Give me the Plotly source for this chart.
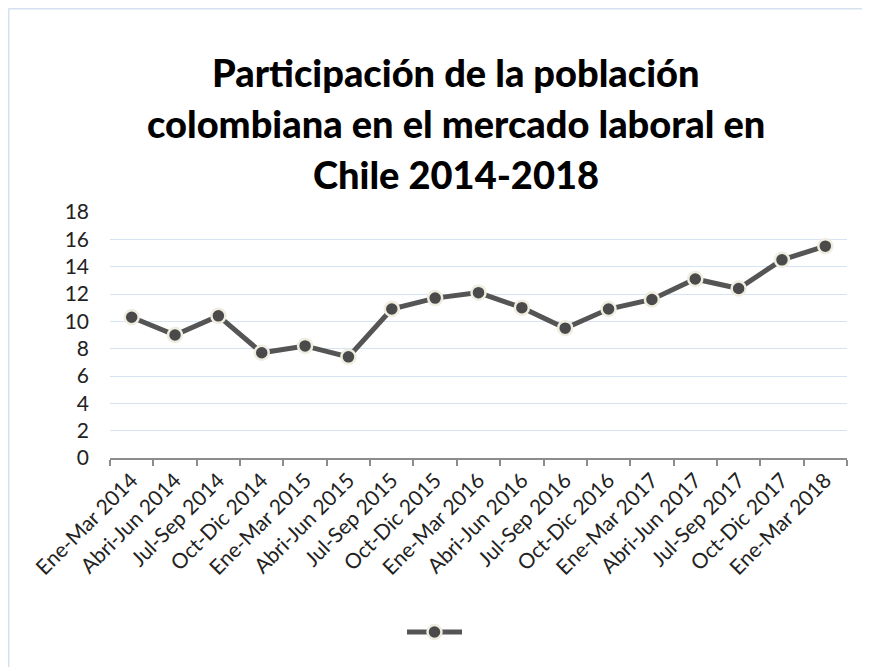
import plotly.graph_objects as go

categories = ["Ene-Mar 2014", "Abri-Jun 2014", "Jul-Sep 2014", "Oct-Dic 2014",
              "Ene-Mar 2015", "Abri-Jun 2015", "Jul-Sep 2015", "Oct-Dic 2015",
              "Ene-Mar 2016", "Abri-Jun 2016", "Jul-Sep 2016", "Oct-Dic 2016",
              "Ene-Mar 2017", "Abri-Jun 2017", "Jul-Sep 2017", "Oct-Dic 2017",
              "Ene-Mar 2018"]
values = [10.3, 9.0, 10.4, 7.7, 8.2, 7.4, 10.9, 11.7, 12.1, 11.0, 9.5, 10.9,
          11.6, 13.1, 12.4, 14.5, 15.5]
title_lines = ["Participación de la población",
               "colombiana en el mercado laboral en",
               "Chile 2014-2018"]
y_ticks = [0, 2, 4, 6, 8, 10, 12, 14, 16, 18]

OFF = 8  # page body margin
W, H = 870 - OFF, 667 - OFF
ML, MT = 110 - OFF, 212 - OFF
MR = W - (847 - OFF)
MB = H - (458 - OFF)
PW = W - ML - MR
PH = H - MT - MB


def px2x(px):
    return (px - OFF - ML) / PW


def py2y(py):
    return (H - MB - (py - OFF)) / PH


fig = go.Figure()
fig.add_trace(go.Scatter(
    x=categories, y=values, mode="lines+markers", name="",
    line=dict(color="#555555", width=5),
    marker=dict(color="#4a4a4a", size=14, line=dict(color="#efece0", width=2.5)),
    showlegend=True,
))

font = "Lato, 'Open Sans', sans-serif"

annotations = []
for i, t in enumerate(title_lines):
    annotations.append(dict(
        text=t, xref="paper", yref="paper",
        x=px2x(456), y=py2y(72 + 51 * i),
        xanchor="center", yanchor="middle", showarrow=False,
        font=dict(family=font, size=38, color="#000000", weight=900),
    ))

shapes = [
    dict(type="line", xref="paper", yref="paper", x0=px2x(8.5), x1=px2x(W + 30),
         y0=py2y(8.7), y1=py2y(8.7), line=dict(color="#d5e1f1", width=1.5)),
    dict(type="line", xref="paper", yref="paper", x0=px2x(8.7), x1=px2x(8.7),
         y0=py2y(8.5), y1=py2y(H + 30), line=dict(color="#d5e1f1", width=1.5)),
]

fig.update_layout(
    width=W, height=H,
    margin=dict(l=ML, r=MR, t=MT, b=MB),
    paper_bgcolor="white", plot_bgcolor="white",
    font=dict(family=font, color="#222222"),
    annotations=annotations,
    shapes=shapes,
    showlegend=True,
    legend=dict(orientation="h", x=px2x(437), y=py2y(632), xanchor="center",
                yanchor="middle", itemwidth=55, font=dict(size=2),
                bgcolor="rgba(0,0,0,0)"),
    xaxis=dict(
        type="category", range=[-0.5, len(categories) - 0.5],
        showgrid=False, showline=True, linecolor="#8c8c8c", linewidth=1.5,
        ticks="outside", tickson="boundaries", ticklen=6, tickcolor="#8c8c8c",
        tickwidth=1.5, tickangle=-45,
        tickfont=dict(family=font, size=21, color="#222222"),
        fixedrange=True,
    ),
    yaxis=dict(
        range=[0, 18], tickvals=y_ticks, showgrid=True, gridcolor="#d6e3f3",
        gridwidth=1.2, zeroline=False, showline=False, ticks="",
        tickfont=dict(family=font, size=21, color="#222222"), ticklabelstandoff=20,
        fixedrange=True,
    ),
)

fig.write_html("out.html")
